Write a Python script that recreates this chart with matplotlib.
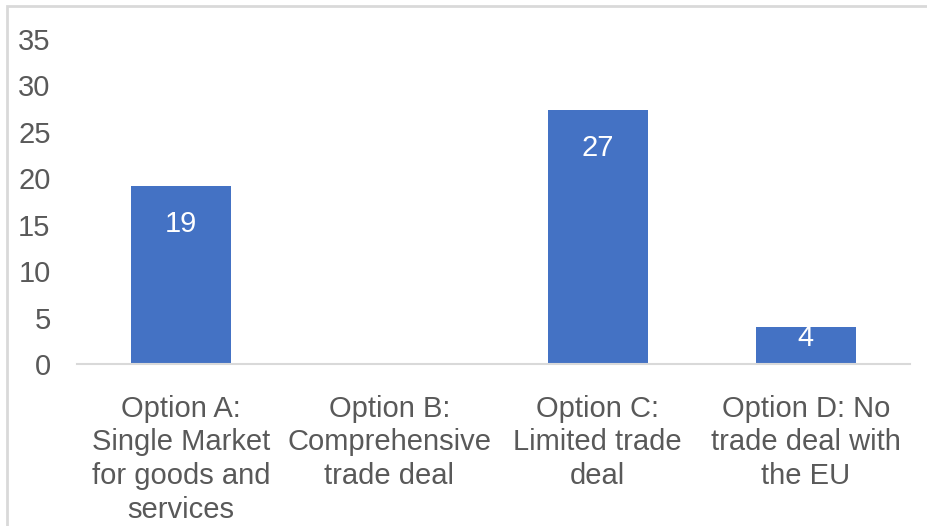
"""Bar chart of preferred Brexit trade options."""

import matplotlib
matplotlib.use("Agg")
import matplotlib.pyplot as plt
from matplotlib.patches import Rectangle

CATEGORIES = [
    "Option A:\nSingle Market\nfor goods and\nservices",
    "Option B:\nComprehensive\ntrade deal",
    "Option C:\nLimited trade\ndeal",
    "Option D: No\ntrade deal with\nthe EU",
]
VALUES = [19.2, 0, 27.4, 4]
Y_TICKS = [0, 5, 10, 15, 20, 25, 30, 35]

BAR_COLOR = "#4472C4"
TEXT_COLOR = "#595959"
LINE_COLOR = "#D9D9D9"
FONT_SIZE = 21

plt.rcParams["font.family"] = ["Liberation Sans", "DejaVu Sans"]

fig = plt.figure(figsize=(9.27, 5.26), dpi=100)
W, H = 927, 526
ax = fig.add_axes([77 / W, 1 - 364 / H, (910 - 77) / W, (364 - 39) / H])

x = range(len(CATEGORIES))
bars = ax.bar(x, VALUES, width=0.48, color=BAR_COLOR, zorder=2)

# value labels inside the bar end, white; skip empty bars
for xi, v in zip(x, VALUES):
    if v <= 0:
        continue
    y = v - 4.15 if v > 8 else v - 1.2
    ax.text(xi, y, f"{v:.0f}", ha="center", va="center",
            color="white", fontsize=FONT_SIZE, zorder=3)

ax.set_xlim(-0.5, len(CATEGORIES) - 0.5)
ax.set_ylim(0, 35)
ax.set_yticks(Y_TICKS)
ax.set_xticks(list(x))
ax.set_xticklabels(CATEGORIES, linespacing=1.27)

ax.tick_params(axis="y", length=0, pad=19, labelsize=FONT_SIZE, labelcolor=TEXT_COLOR)
ax.tick_params(axis="x", length=0, pad=22, labelsize=FONT_SIZE, labelcolor=TEXT_COLOR)

for side in ("top", "right", "left"):
    ax.spines[side].set_visible(False)
ax.spines["bottom"].set_color(LINE_COLOR)
ax.spines["bottom"].set_linewidth(1.5)

# light chart-area border (left and top visible in the crop)
fig.patches.append(Rectangle((7.5 / W, -0.1), 1.2, 1 - 5.5 / H + 0.1,
                             transform=fig.transFigure, fill=False,
                             edgecolor=LINE_COLOR, linewidth=2))

fig.savefig("out.png", dpi=100)
plt.close(fig)
